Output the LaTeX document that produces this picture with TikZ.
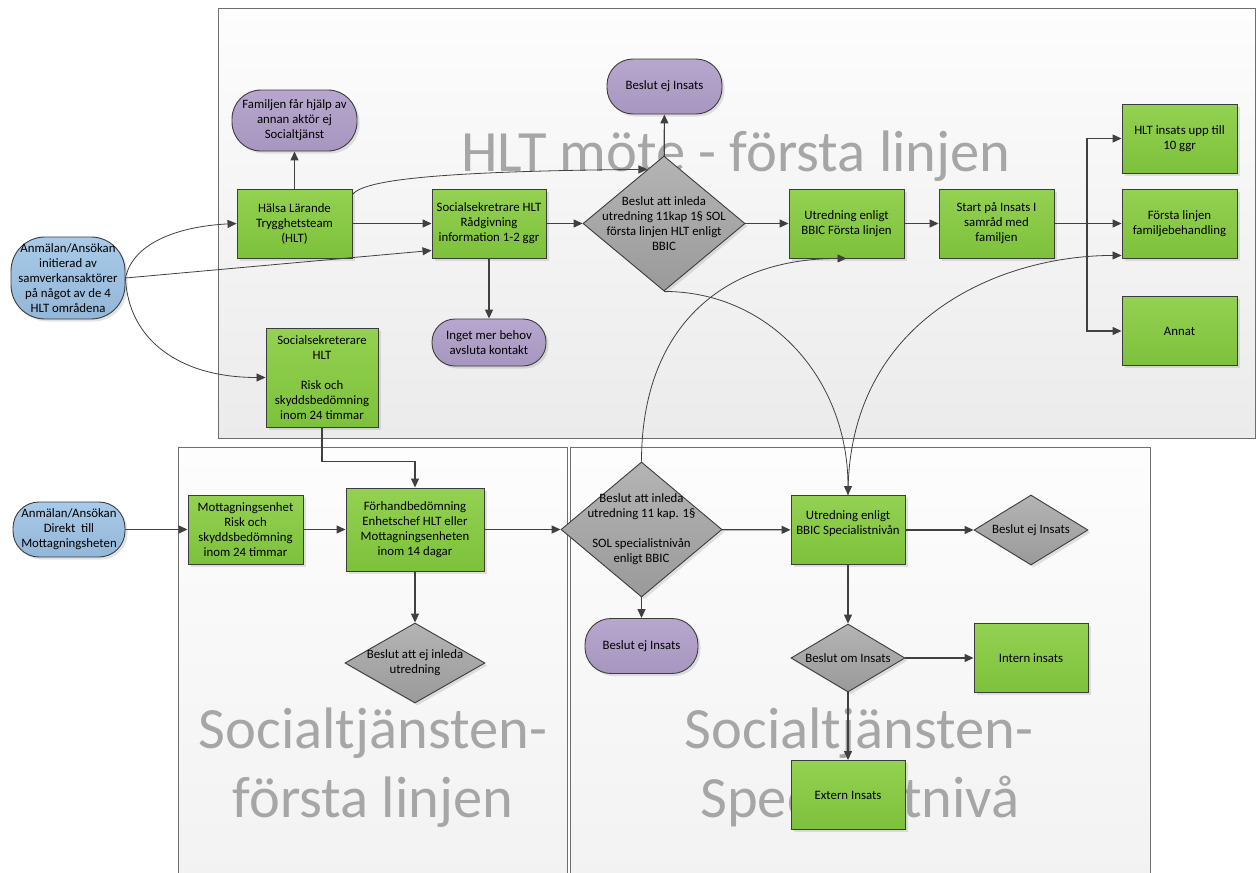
\documentclass[tikz,border=0pt]{standalone}
\usepackage{fontspec}
\setmainfont{Carlito}
\usetikzlibrary{arrows.meta,shapes.geometric,shadows,calc}

\definecolor{edge}{HTML}{404040}
\definecolor{boxline}{HTML}{3C3C3C}
\definecolor{laneline}{HTML}{6E6E6E}
\definecolor{laneT}{HTML}{FDFDFD}
\definecolor{laneB}{HTML}{EBEBEB}
\definecolor{greenT}{HTML}{94D152}
\definecolor{greenB}{HTML}{7DC13B}
\definecolor{purT}{HTML}{B7A7CE}
\definecolor{purB}{HTML}{A796BF}
\definecolor{blueT}{HTML}{A9CAE8}
\definecolor{blueB}{HTML}{93B7D9}
\definecolor{grayT}{HTML}{B4B4B4}
\definecolor{grayB}{HTML}{9A9A9A}
\definecolor{wm}{HTML}{A6A6A6}

\tikzset{
  box/.style={draw=boxline, line width=0.9pt, inner sep=0pt, align=center,
    font=\fontsize{12.8}{15}\selectfont, text=black,
    drop shadow={shadow xshift=2.5pt, shadow yshift=-2.5pt, opacity=0.22}},
  act/.style={box, rectangle, top color=greenT, bottom color=greenB,
    minimum width=115pt, minimum height=69pt},
  term/.style={box, rectangle, rounded corners=26pt, top color=purT, bottom color=purB,
    minimum width=115pt, minimum height=55pt},
  src/.style={box, rectangle, rounded corners=30pt, top color=blueT, bottom color=blueB},
  dec/.style={box, diamond, top color=grayT, bottom color=grayB},
  dectext/.style={align=center, font=\fontsize{12.8}{15}\selectfont, text=black, inner sep=0pt},
  arr/.style={draw=edge, line width=1.2pt, -{Triangle[length=9pt,width=8pt]}},
  carr/.style={draw=edge, line width=0.8pt, -{Triangle[length=9pt,width=8pt]}},
  plain/.style={draw=edge, line width=1.2pt},
  lane/.style={draw=laneline, line width=0.9pt},
  lanetitle/.style={text=wm, font=\fontsize{58.5}{62}\selectfont, anchor=base, inner sep=0pt},
}

\begin{document}
\begin{tikzpicture}[x=1pt, y=-1pt]
\useasboundingbox (0,0) rectangle (1259,873);

% swim lanes
\shade[top color=laneT, bottom color=laneB] (218,8) rectangle (1255,438);
\draw[lane] (218,8) rectangle (1255,438);
\shade[top color=laneT, bottom color=laneB!60!laneT] (178,447) rectangle (567,873);
\draw[lane] (178,873) -- (178,447) -- (567,447) -- (567,873);
\shade[top color=laneT, bottom color=laneB!60!laneT] (570,447) rectangle (1150,873);
\draw[lane] (570,873) -- (570,447) -- (1150,447) -- (1150,873);

% lane titles
\node[lanetitle] (t1) at (736,171) {HLT möte - första linjen};
\node[lanetitle] (t2) at (373,748) {Socialtjänsten-};
\node[lanetitle] (t3) at (373,817) {första linjen};
\node[lanetitle] (t4) at (859,748) {Socialtjänsten-};
\node[lanetitle] (t5) at (860,817) {Specialistnivå};

% first line (HLT)
\node[src, minimum width=114pt, minimum height=82pt, rounded corners=34pt] (a1) at (68,278)
  {Anmälan/Ansökan\\initierad av\\samverkansaktörer\\på något av de 4\\HLT områdena};
\node[act] (hlt) at (294.5,223.5) {Hälsa Lärande\\Trygghetsteam\\(HLT)};
\node[term, minimum width=125pt, minimum height=61pt, rounded corners=29pt] (fam) at (294.5,120.5)
  {Familjen får hjälp av\\annan aktör ej\\Socialtjänst};
\node[act, minimum width=112pt, minimum height=99pt] (ss1) at (322,377.5)
  {Socialsekreterare\\HLT\\[15pt]Risk och\\skyddsbedömning\\inom 24 timmar};
\node[act, minimum width=114pt] (ss2) at (489,223.5)
  {Socialsekretrare HLT\\Rådgivning\\information 1-2 ggr};
\node[term, minimum width=114pt, minimum height=47pt, rounded corners=23pt] (inget) at (489,342.5)
  {Inget mer behov\\avsluta kontakt};
\node[dec, minimum width=162pt, minimum height=135pt,
  label={[dectext]center:{Beslut att inleda\\utredning 11kap 1§ SOL\\första linjen HLT enligt\\BBIC}}]
  (d1) at (664,223.5) {};
\node[term] (bej1) at (664.5,86.5) {Beslut ej Insats};
\node[act] (utr1) at (846.5,223.5) {Utredning enligt\\BBIC Första linjen};
\node[act] (start) at (996.5,223.5) {Start på Insats I\\samråd med\\familjen};
\node[act] (hlt10) at (1179.5,138.5) {HLT insats upp till\\10 ggr};
\node[act] (flf) at (1179.5,223.5) {Första linjen\\familjebehandling};
\node[act] (annat) at (1179.5,331) {Annat};

% social services, first line
\node[src, minimum width=112pt, minimum height=55pt, rounded corners=26pt] (a2) at (69,529.5)
  {Anmälan/Ansökan\\Direkt\ \ till\\Mottagningsheten};
\node[act] (mott) at (245.5,529.5)
  {Mottagningsenhet\\Risk och\\skyddsbedömning\\inom 24 timmar};
\node[act, minimum width=138pt, minimum height=83pt] (forh) at (415,529.5)
  {Förhandbedömning\\Enhetschef HLT eller\\Mottagningsenheten\\inom 14 dagar};
\node[dec, minimum width=140pt, minimum height=80pt,
  label={[dectext]center:{Beslut att ej inleda\\utredning}}]
  (d3) at (415,663) {};

% social services, specialist level
\node[dec, minimum width=161pt, minimum height=135pt,
  label={[dectext]center:{Beslut att inleda\\utredning 11 kap. 1§\\[15pt]SOL specialistnivån\\enligt BBIC}}]
  (d2) at (641.5,529.5) {};
\node[term, minimum width=113pt] (bej2) at (641.5,646) {Beslut ej Insats};
\node[act, minimum width=114pt] (utr2) at (848,530)
  {Utredning enligt\\BBIC Specialistnivån\\\mbox{}};
\node[dec, minimum width=114pt, minimum height=70pt,
  label={[dectext]center:{Beslut ej Insats}}] (bej3) at (1031,530) {};
\node[dec, minimum width=114pt, minimum height=68pt,
  label={[dectext]center:{Beslut om Insats}}] (dom) at (848,658) {};
\node[act, minimum width=114pt] (intern) at (1031,658) {Intern insats};
\node[act, minimum width=114pt] (extern) at (848,795) {Extern Insats};

% connectors, first line
\draw[carr] (a1.east) .. controls +(8,-38) and +(-52,2.5) .. (hlt.west);
\draw[carr] (a1.east) -- ([yshift=8pt]ss2.south west);
\draw[carr] (a1.east) .. controls +(3,62) and +(-86,0) .. (ss1.west);
\draw[arr] (hlt) -- (ss2);
\draw[arr] (hlt) -- (fam);
\draw[carr] ([yshift=-6pt]hlt.north east) .. controls +(10,-13) and +(-227,2) .. (d1.107);
\draw[arr] (ss2) -- (d1);
\draw[arr] (ss2) -- (inget);
\draw[arr] (d1) -- (bej1);
\draw[arr] (d1) -- (utr1);
\draw[arr] (utr1) -- (start);
\coordinate (fork) at (1087,223.5);
\draw[plain] (start) -- (fork);
\draw[arr] (fork) |- (hlt10);
\draw[arr] (fork) -- (flf);
\draw[arr] (fork) |- (annat);

% connectors between the lanes
\draw[arr] (ss1.south) -- ++(0,34) -| (forh.north);
\draw[carr] (d1.south) .. controls +(106,0) and +(0,-116) .. (utr2.north);
\draw[carr] (d2.north) .. controls +(0,-132) and +(-126,0) .. (utr1.south);
\draw[carr] (utr2.north) .. controls +(0,-176) and +(-122,0) .. ([yshift=3pt]flf.south west);

% connectors, lower lanes
\draw[arr] (a2) -- (mott);
\draw[arr] (mott) -- (forh);
\draw[arr] (forh) -- (d3);
\draw[arr] (forh) -- (d2);
\draw[arr] (d2) -- (bej2);
\draw[arr] (d2) -- (utr2);
\draw[arr] (utr2) -- (bej3);
\draw[arr] (utr2) -- (dom);
\draw[arr] (dom) -- (intern);
\draw[arr] (dom) -- (extern);
\end{tikzpicture}
\end{document}
